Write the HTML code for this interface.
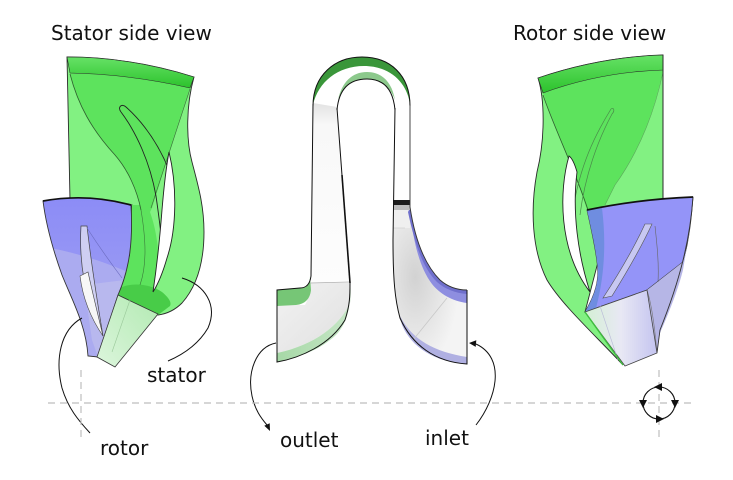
<!DOCTYPE html>
<html><head><meta charset="utf-8"><style>
html,body{margin:0;padding:0;background:#fff;}
svg{display:block;}
text{font-family:"DejaVu Sans","Liberation Sans",sans-serif;font-size:20px;fill:#111;}
</style></head><body>
<svg width="733" height="480" viewBox="0 0 733 480" xmlns="http://www.w3.org/2000/svg">
<defs>
<linearGradient id="band" x1="0" y1="0" x2="0" y2="1"><stop offset="0" stop-color="#66e266"/><stop offset="1" stop-color="#2cc22c"/></linearGradient>
<linearGradient id="lgface" x1="1" y1="0" x2="0" y2="1"><stop offset="0" stop-color="#b2eab2"/><stop offset="1" stop-color="#dcf5dc"/></linearGradient>
<linearGradient id="bluel" x1="0" y1="0" x2="0" y2="1"><stop offset="0" stop-color="#8c8cf6"/><stop offset="1" stop-color="#a4a4f2"/></linearGradient>
<linearGradient id="rface" x1="0" y1="0" x2="1" y2="0"><stop offset="0" stop-color="#d4f0d4"/><stop offset="0.5" stop-color="#e8e8f4"/><stop offset="1" stop-color="#c4c4f0"/></linearGradient>
<linearGradient id="legL" x1="0" y1="0" x2="0" y2="1"><stop offset="0" stop-color="#e2e2e2"/><stop offset="0.12" stop-color="#f8f8f8"/><stop offset="1" stop-color="#fdfdfd"/></linearGradient>
<radialGradient id="rfoot" cx="0.3" cy="0.45" r="0.6"><stop offset="0" stop-color="#d2d2d2"/><stop offset="1" stop-color="#f4f4f4"/></radialGradient>
<linearGradient id="lfoot" x1="0" y1="0" x2="1" y2="1"><stop offset="0" stop-color="#f2f2f2"/><stop offset="1" stop-color="#e0e0e0"/></linearGradient>
<linearGradient id="gstrip" x1="0" y1="0" x2="1" y2="0"><stop offset="0" stop-color="#a6d8a6"/><stop offset="1" stop-color="#c6e6c6"/></linearGradient>
<clipPath id="bclip"><path d="M43,201 Q87,193 131,205 C133,240 130,268 118,295 L98,357 L88,356 C86,325 72,300 62,275 C53,250 46,225 43,201 Z"/></clipPath>
</defs>

<!-- titles -->
<text x="51" y="40">Stator side view</text>
<text x="513" y="40">Rotor side view</text>

<!-- ================= LEFT FIGURE ================= -->
<path d="M67,57 Q130,57 194,77 C186,105 186,140 192,162 C198,185 204,205 204,232 C204,260 198,285 182,303 C175,310 166,314 158,315 L118,295 L130,255 L132,205 Q100,199 70,200 Z" fill="#82f182" stroke="#2a2a2a" stroke-width="0.9"/>
<path d="M70,73 Q128,74 190,88 L152,208 L150,212 C160,240 160,270 156,292 L120,294 L130,255 L132,205 L140,205 C136,188 128,170 115,155 C92,130 78,105 70,73 Z" fill="#5de35d"/>
<path d="M67,57 Q130,57 194,77 L190,88 Q128,74 70,73 Z" fill="url(#band)" stroke="#2a2a2a" stroke-width="0.6"/>
<path d="M120,288 C132,282 150,284 162,292 C168,297 172,302 170,306 L158,315 L118,296 Z" fill="#48cc48"/>
<path d="M70,74 C78,105 92,130 115,155 C128,170 137,190 141,210" fill="none" stroke="#2e5e2e" stroke-width="0.8"/>
<path d="M190,89 L151,208" fill="none" stroke="#3a6a3a" stroke-width="0.6"/>
<path d="M121,112 C117,107 122,103 126,107 C146,125 160,148 169,170" fill="none" stroke="#222" stroke-width="0.9"/>
<path d="M121,112 C136,132 150,162 156,196 C158,210 160,225 161,235" fill="none" stroke="#222" stroke-width="0.9"/>
<path d="M169,152 C177,185 177,228 167,258 C163,272 158,284 153,292 C157,265 160,236 162,210 C164,186 166,168 169,152 Z" fill="#fff" stroke="#222" stroke-width="0.9"/>
<path d="M141,210 C146,240 147,265 140,285" fill="none" stroke="#3a7a3a" stroke-width="0.6"/>

<!-- blue rotor left -->
<path d="M43,201 Q87,193 131,205 C133,240 130,268 118,295 L98,357 L88,356 C86,325 72,300 62,275 C53,250 46,225 43,201 Z" fill="url(#bluel)"/>
<g clip-path="url(#bclip)">
<path d="M40,246 C75,252 105,262 130,273 L130,370 L40,370 Z" fill="#ababf0"/>
<path d="M84,285 L125,280 L118,295 L98,357 L92,340 Z" fill="#b8b8ee"/>
</g>
<path d="M43,201 Q87,193 131,205 C133,240 130,268 118,295 L98,357 L88,356 C86,325 72,300 62,275 C53,250 46,225 43,201 Z" fill="none" stroke="#333" stroke-width="0.9"/>
<path d="M81,226 C79,260 84,300 103,336 C97,300 91,262 87,226 Z" fill="#cfcff2" stroke="#444" stroke-width="0.7"/>
<path d="M80,276 C83,300 92,320 103,336 C98,315 93,295 88,272 Z" fill="#f7f7f7" stroke="#444" stroke-width="0.6"/>
<path d="M87,228 C98,245 110,262 122,278" fill="none" stroke="#6b6bc0" stroke-width="0.6"/>
<path d="M43,201 Q87,193 131,205" fill="none" stroke="#111" stroke-width="1.7"/>
<path d="M118,295 L158,314 L115,367 L97,357 Z" fill="url(#lgface)" stroke="#333" stroke-width="0.8"/>
<path d="M130,300 L112,352" stroke="#9ac89a" stroke-width="0.6"/>

<path d="M182,278 C205,285 218,305 208,328 C198,345 182,355 168,361" fill="none" stroke="#111" stroke-width="1"/>
<path d="M82,318 C60,330 55,360 62,388 C68,408 78,420 90,433" fill="none" stroke="#111" stroke-width="1"/>
<text x="147" y="382">stator</text>
<text x="100" y="455">rotor</text>

<!-- ================= CENTER FIGURE ================= -->
<path d="M313,103 L337,107 L350,283 L310,283 L311,200 Z" fill="url(#legL)"/>
<path d="M393,210 L410,207 C415,240 425,265 440,280 C448,287 458,290 467,290 L467,363 C435,362 410,345 400,320 C395,300 393,270 393,210 Z" fill="url(#rfoot)"/>
<path d="M393,210 L410,210 L410,228 L393,228 Z" fill="#efefef"/>
<path d="M277,305 L305,305 C308,300 310,292 310,283 L350,283 C351,292 351,298 350,303 C340,325 315,345 277,353 Z" fill="url(#lfoot)"/>
<path d="M277,290 L303,288 C308,287 310,283 310,276 L311,290 C310,299 305,304 296,305 L277,306 Z" fill="#76c676"/>
<path d="M277,353 C315,345 340,325 350,303 C351,295 351,290 350,283 C352,310 345,330 330,340 C315,352 295,358 277,362 Z" fill="url(#gstrip)"/>
<path d="M410,208 C415,240 425,265 440,280 C448,287 458,290 467,290 L467,303 C452,301 440,294 432,284 C420,268 414,245 410,212 Z" fill="#8e8ee0"/>
<path d="M410,208 C415,240 425,265 440,280 C448,287 458,290 467,290 L467,294 C455,293 445,289 437,282 C423,268 415,245 408,212 Z" fill="#6f6fcc"/>
<path d="M400,316 C412,340 435,352 467,357 L467,364 C435,362 412,348 402,325 Z" fill="#b0b0e2"/>
<path d="M447,298 L413,340" stroke="#c8c8c8" stroke-width="0.8"/>
<rect x="393" y="200" width="17" height="5" fill="#1d1d1d"/>
<rect x="393" y="205" width="17" height="5" fill="#bdbdbd"/>
<line x1="393" y1="228" x2="405" y2="228" stroke="#d0d0d0" stroke-width="0.7"/>
<line x1="310" y1="283" x2="350" y2="282" stroke="#b0b0b0" stroke-width="0.7"/>
<path d="M313,105 C313,75 335,57 362,57 C390,57 410,75 410,105 C408,85 392,66 364,66 C338,66 318,82 313,105 Z" fill="#3a963a"/>
<path d="M338,100 C342,82 352,72 367,72 C382,72 392,82 395,100 C390,86 380,79 367,79 C353,79 343,86 338,100 Z" fill="#8cc98c"/>
<path d="M313,106 C313,75 335,57 362,57 C390,57 410,75 410,106" fill="none" stroke="#111" stroke-width="1"/>
<path d="M337,110 C339,88 350,79 367,79 C383,79 393,88 395,110" fill="none" stroke="#111" stroke-width="1"/>
<path d="M313,104 L311,276 C310,284 306,288 300,288 L277,290 L277,362 C300,358 330,345 345,320 C350,305 350,295 350,283 L337,108" fill="none" stroke="#111" stroke-width="1"/>
<path d="M342,175 L350,283" stroke="#111" stroke-width="1.6"/>
<path d="M395,108 L393,240 C393,280 395,300 400,318 C412,345 435,362 467,364 L467,290" fill="none" stroke="#111" stroke-width="1"/>
<path d="M410,105 L410,207 C415,240 425,265 440,280 C448,287 458,290 467,290" fill="none" stroke="#333" stroke-width="0.9"/>

<path d="M276,343 C256,347 247,372 252,396 C255,410 261,418 267,425" fill="none" stroke="#111" stroke-width="1"/>
<path d="M270,431 L264.3,425.8 L269.7,423.2 Z" fill="#111"/>
<path d="M476,425 C497,398 506,358 476,344" fill="none" stroke="#111" stroke-width="1"/>
<path d="M469,343 L476.3,340.3 L475.7,346.9 Z" fill="#111"/>
<text x="280" y="447">outlet</text>
<text x="425" y="445">inlet</text>

<!-- ================= RIGHT FIGURE ================= -->
<path d="M538,78 Q600,57 663,55 L663,200 L590,212 L598,262 L585,312 L623,365 C595,335 562,305 547,280 C532,250 530,210 537,172 C545,140 545,100 538,78 Z" fill="#82f182" stroke="#2a2a2a" stroke-width="0.9"/>
<path d="M543,93 Q600,72 663,70 C655,110 640,150 615,185 L605,205 L590,212 L587,210 C575,170 555,130 543,93 Z" fill="#5de35d"/>
<path d="M538,78 Q600,57 663,55 L663,70 Q600,72 543,93 Z" fill="url(#band)" stroke="#2a2a2a" stroke-width="0.6"/>
<path d="M543,95 C555,130 575,170 588,210" fill="none" stroke="#2e5e2e" stroke-width="0.8"/>
<path d="M663,72 C655,110 640,150 615,185 L605,205" fill="none" stroke="#5aa85a" stroke-width="0.6"/>
<path d="M611,109 C614,107 615,111 612,114 C598,140 585,175 580,215" fill="none" stroke="#4a8a4a" stroke-width="0.7"/>
<path d="M611,109 C595,135 580,165 573,210" fill="none" stroke="#4a8a4a" stroke-width="0.7"/>
<line x1="663" y1="55" x2="663" y2="200" stroke="#2a2a2a" stroke-width="0.9"/>
<path d="M569,156 C559,190 558,250 590,292 C578,255 572,212 577,172 C575,165 572,158 569,156 Z" fill="#fff" stroke="#222" stroke-width="0.9"/>
<path d="M587,210 Q640,199 693,197 C691,225 688,245 683,262 C670,272 660,280 647,290 L585,312 C595,295 600,280 597,262 C595,245 591,228 587,210 Z" fill="#9494f8" stroke="#333" stroke-width="0.8"/>
<path d="M587,210 L602,208 C606,240 605,275 596,308 L585,312 C595,295 600,280 597,262 C595,245 591,228 587,210 Z" fill="#6f8de0"/>
<path d="M690,228 C688,245 684,258 683,262 C670,272 660,280 647,290 L652,320 L657,353 L660,333 C668,315 678,290 683,270 Z" fill="#b6b6e6"/>
<path d="M693,197 C690,240 680,280 660,330 L657,353" fill="none" stroke="#333" stroke-width="0.9"/>
<path d="M647,290 C652,305 655,330 657,353" fill="none" stroke="#777" stroke-width="0.6"/>
<path d="M655,226 C657,245 659,262 658,282" fill="none" stroke="#666" stroke-width="0.6"/>
<path d="M645,224 L652,224 C640,250 625,275 612,296 L603,298 C618,275 633,250 645,224 Z" fill="#c8c8f2" stroke="#555" stroke-width="0.6"/>
<path d="M585,312 L647,290 L657,353 L625,366 Z" fill="url(#rface)" stroke="#444" stroke-width="0.8"/>
<path d="M600,306 L618,360" stroke="#b8b8d8" stroke-width="0.6"/>
<path d="M585,312 L623,365" stroke="#3fbf3f" stroke-width="1.4"/>
<path d="M587,210 Q640,199 693,197" fill="none" stroke="#111" stroke-width="1.7"/>

<line x1="48" y1="403" x2="692" y2="403" stroke="#bdbdbd" stroke-width="1.2" stroke-dasharray="7,5"/>
<line x1="81" y1="370" x2="81" y2="437" stroke="#bdbdbd" stroke-width="1.2" stroke-dasharray="7,5"/>
<line x1="659" y1="370" x2="659" y2="437" stroke="#bdbdbd" stroke-width="1.2" stroke-dasharray="7,5"/>
<circle cx="659" cy="403" r="16" fill="none" stroke="#111" stroke-width="1.1"/>
<path d="M654,387 L662,383 L662,391 Z" fill="#111"/>
<path d="M664,419 L656,415 L656,423 Z" fill="#111"/>
<path d="M643,408 L639,400 L647,400 Z" fill="#111"/>
<path d="M675,408 L671,400 L679,400 Z" fill="#111"/>
</svg>
</body></html>
